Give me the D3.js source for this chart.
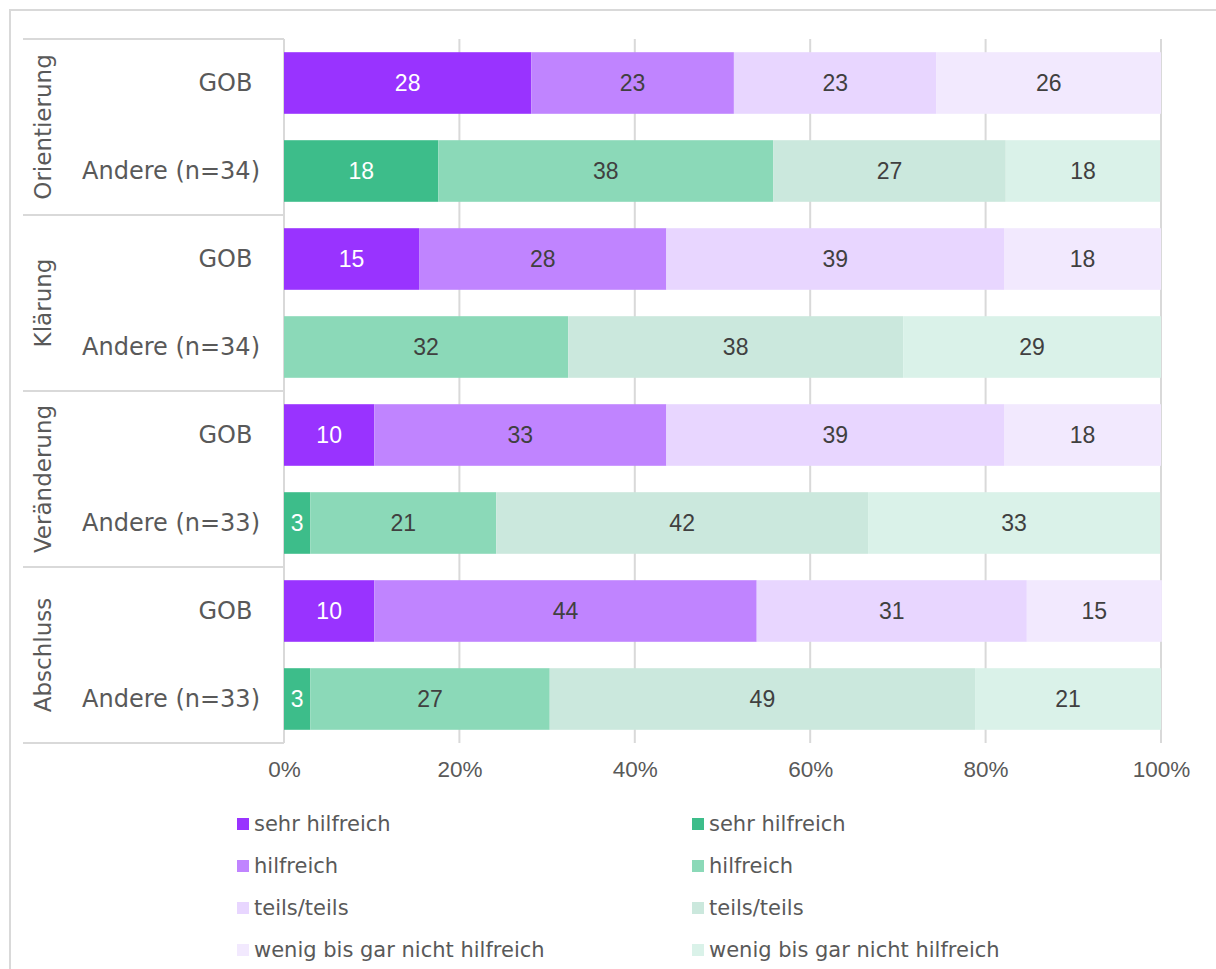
<!DOCTYPE html>
<html>
<head>
<meta charset="utf-8">
<script src="https://cdn.jsdelivr.net/npm/d3@7"></script>
<style>
  body { margin: 0; background: #fff; }
</style>
</head>
<body>
<div id="chart"></div>
<script>
// phases (outer category) and the two rows inside each phase
var phases = ["Orientierung", "Klärung", "Veränderung", "Abschluss"];
var andereN = [34, 34, 33, 33];
var levels = ["sehr hilfreich", "hilfreich", "teils/teils", "wenig bis gar nicht hilfreich"];

// shares in % per phase (sehr, hilfreich, teils, wenig)
var gobValues = [
  [28.2, 23.1, 23.1, 25.6],
  [15.4, 28.2, 38.5, 17.9],
  [10.3, 33.3, 38.5, 17.9],
  [10.3, 43.6, 30.8, 15.4]
];
var andereValues = [
  [17.6, 38.2, 26.5, 17.6],
  [0, 32.4, 38.2, 29.4],
  [3.0, 21.2, 42.4, 33.3],
  [3.0, 27.3, 48.5, 21.2]
];

var xTicks = [0, 20, 40, 60, 80, 100];
var purples = ["#9933ff", "#c084ff", "#e8d6ff", "#f2e9fe"];
var greens = ["#3dbd8a", "#8bd9b8", "#cbe8dd", "#daf2e9"];

// build rows
var rows = [];
phases.forEach(function (p, i) {
  rows.push({ id: p + "-gob", phase: p, label: "GOB\u00a0", values: gobValues[i], colors: purples });
  rows.push({ id: p + "-and", phase: p, label: "Andere (n=" + andereN[i] + ")", values: andereValues[i], colors: greens });
});

var W = 1216, H = 969;
var svg = d3.select("#chart").append("svg")
  .attr("width", W)
  .attr("height", H);

// outer frame
svg.append("rect")
  .attr("x", 10).attr("y", 10)
  .attr("width", W + 20).attr("height", H + 20)
  .attr("fill", "none")
  .attr("stroke", "#d9d9d9")
  .attr("stroke-width", 2);

var x = d3.scaleLinear().domain([0, 100]).range([284, 1161]);
var y = d3.scaleBand()
  .domain(rows.map(function (d) { return d.id; }))
  .range([39, 743])
  .paddingInner(0.3)
  .paddingOuter(0.15);

var gridColor = "#d9d9d9";

// gridlines
svg.append("g").selectAll("line")
  .data(xTicks)
  .enter().append("line")
  .attr("x1", function (d) { return x(d); })
  .attr("x2", function (d) { return x(d); })
  .attr("y1", 39).attr("y2", 743)
  .attr("stroke", gridColor)
  .attr("stroke-width", 2);

// phase boxes
var phaseY = d3.scaleBand().domain(phases).range([39, 743]);
svg.append("g").selectAll("line")
  .data(phases.concat(["end"]))
  .enter().append("line")
  .attr("x1", 23).attr("x2", x(0))
  .attr("y1", function (d, i) { return 39 + i * phaseY.bandwidth(); })
  .attr("y2", function (d, i) { return 39 + i * phaseY.bandwidth(); })
  .attr("stroke", gridColor)
  .attr("stroke-width", 2);

svg.append("g").selectAll("text")
  .data(phases)
  .enter().append("text")
  .attr("transform", function (d) {
    return "translate(43," + (phaseY(d) + phaseY.bandwidth() / 2) + ") rotate(-90)";
  })
  .attr("text-anchor", "middle")
  .attr("dominant-baseline", "central")
  .style("font-family", "'DejaVu Sans', Verdana, sans-serif")
  .style("font-size", "23px")
  .style("fill", "#595959")
  .text(function (d) { return d; });

// row labels
svg.append("g").selectAll("text")
  .data(rows)
  .enter().append("text")
  .attr("x", 260)
  .attr("y", function (d) { return y(d.id) + y.bandwidth() / 2; })
  .attr("text-anchor", "end")
  .attr("dominant-baseline", "central")
  .style("font-family", "'DejaVu Sans', Verdana, sans-serif")
  .style("font-size", "24px")
  .style("fill", "#595959")
  .text(function (d) { return d.label; });

// stacked segments
var segs = [];
rows.forEach(function (r) {
  var acc = 0;
  r.values.forEach(function (v, k) {
    segs.push({ row: r.id, k: k, x0: acc, x1: acc + v, v: v, color: r.colors[k] });
    acc += v;
  });
});

var bars = svg.append("g");
bars.selectAll("rect")
  .data(segs.filter(function (d) { return d.v > 0; }))
  .enter().append("rect")
  .attr("x", function (d) { return x(d.x0); })
  .attr("y", function (d) { return y(d.row); })
  .attr("width", function (d) { return x(d.x1) - x(d.x0); })
  .attr("height", y.bandwidth())
  .attr("fill", function (d) { return d.color; });

bars.selectAll("text")
  .data(segs.filter(function (d) { return d.v > 0; }))
  .enter().append("text")
  .attr("x", function (d) { return (x(d.x0) + x(d.x1)) / 2; })
  .attr("y", function (d) { return y(d.row) + y.bandwidth() / 2; })
  .attr("text-anchor", "middle")
  .attr("dominant-baseline", "central")
  .style("font-family", "'Liberation Sans', Arial, sans-serif")
  .style("font-size", "23px")
  .style("fill", function (d) { return d.k === 0 ? "#ffffff" : "#404040"; })
  .text(function (d) { return Math.round(d.v); });

// x axis labels
var xAxis = svg.append("g")
  .attr("transform", "translate(0,743)")
  .call(d3.axisBottom(x).tickValues(xTicks).tickSize(0).tickPadding(18)
    .tickFormat(function (d) { return d + "%"; }));
xAxis.select(".domain").remove();
xAxis.selectAll("text")
  .style("font-family", "'Liberation Sans', Arial, sans-serif")
  .style("font-size", "22.5px")
  .style("fill", "#595959");

// legend: two columns, purple (GOB) and green (Andere)
var legendCols = [
  { x: 237, colors: purples },
  { x: 692, colors: greens }
];
legendCols.forEach(function (col) {
  var g = svg.append("g");
  var item = g.selectAll("g")
    .data(levels)
    .enter().append("g")
    .attr("transform", function (d, i) { return "translate(" + col.x + "," + (824 + i * 42) + ")"; });
  item.append("rect")
    .attr("x", 0).attr("y", -6)
    .attr("width", 12).attr("height", 12)
    .attr("fill", function (d, i) { return col.colors[i]; });
  item.append("text")
    .attr("x", 17)
    .attr("dominant-baseline", "central")
    .style("font-family", "'DejaVu Sans', Verdana, sans-serif")
    .style("font-size", "21px")
    .style("fill", "#595959")
    .text(function (d) { return d; });
});
</script>
</body>
</html>
